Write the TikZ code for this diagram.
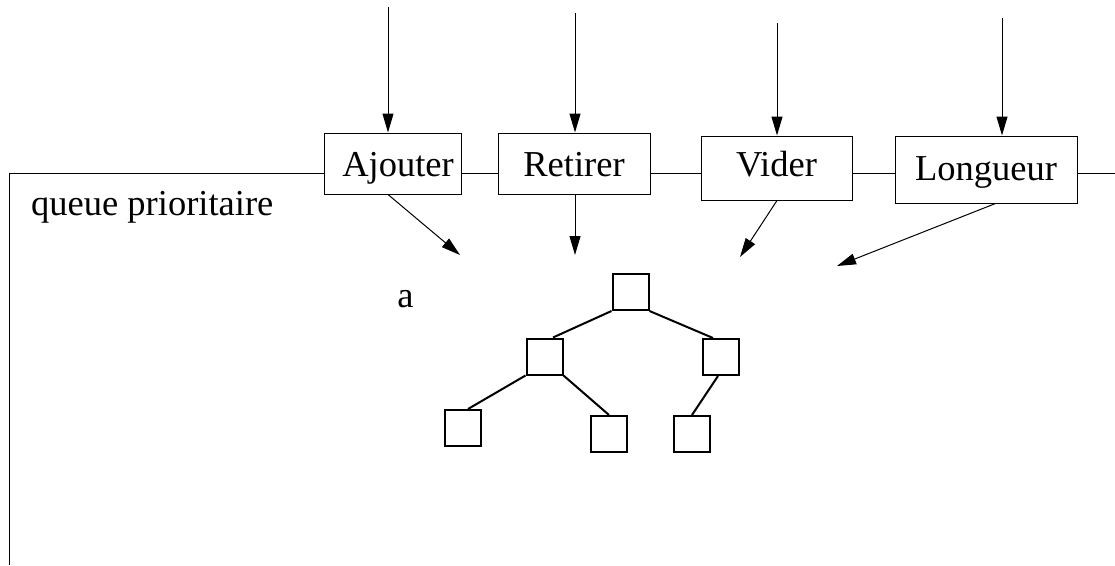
\documentclass[tikz,border=0pt]{standalone}
\usepackage{fontspec}
\setmainfont{Liberation Serif}
\usetikzlibrary{arrows.meta,calc}
\begin{document}
\begin{tikzpicture}[x=1pt,y=-1pt,
  every node/.style={font=\fontsize{36.5}{40}\selectfont},
  opbox/.style={draw, line width=1pt, inner sep=0pt, text depth=10pt},
  leaf/.style={draw, line width=2pt, minimum size=36pt, inner sep=0pt},
  arr/.style={line width=1pt, -{Triangle[length=19pt,width=11pt]}},
  frameline/.style={line width=1pt},
  treeedge/.style={line width=2pt}]
\useasboundingbox (0,0) rectangle (1115,565);

% operation boxes
\node[opbox, minimum width=137pt, minimum height=61pt, text height=35pt] (aj) at (392.5,163.5) {\hspace*{11pt}Ajouter};
\node[opbox, minimum width=152pt, minimum height=61pt, text height=35pt] (re) at (574,163.5) {Retirer};
\node[opbox, minimum width=151pt, minimum height=64pt, text height=26pt] (vi) at (776.5,168) {Vider};
\node[opbox, minimum width=182pt, minimum height=67pt, text height=31pt] (lo) at (986,169.5) {Longueur};

% frame line
\coordinate (c) at (9,173);
\coordinate (cb) at (9,565);
\coordinate (ce) at (1115,173);
\draw[frameline] (cb) -- (c) -- (aj.west |- c);
\draw[frameline] (aj.east |- c) -- (re.west |- c);
\draw[frameline] (re.east |- c) -- (vi.west |- c);
\draw[frameline] (vi.east |- c) -- (lo.west |- c);
\draw[frameline] (lo.east |- c) -- (ce);

% labels
\node[anchor=base west, inner sep=0pt] (qp) at (31,215) {queue prioritaire};
\node[anchor=base, inner sep=0pt] (la) at (405.5,307) {a};

% incoming arrows
\coordinate (t1) at (388,7);
\coordinate (t2) at (575,13);
\coordinate (t3) at (777,23);
\coordinate (t4) at (1002,18);
\draw[arr] (t1) -- (t1 |- aj.north);
\draw[arr] (t2) -- (t2 |- re.north);
\draw[arr] (t3) -- (t3 |- vi.north);
\draw[arr] (t4) -- (t4 |- lo.north);

% outgoing arrows
\coordinate (e1) at (460,255);
\coordinate (e2) at (575,255);
\coordinate (e3) at (740,257);
\coordinate (e4) at (837,266);
\draw[arr] (aj.south -| t1) -- (e1);
\draw[arr] (re.south -| t2) -- (e2);
\draw[arr] (vi.south -| t3) -- (e3);
\draw[arr] ($(lo.south)+(9.5,0)$) -- (e4);

% tree
\node[leaf] (r0) at (630.5,292) {};
\node[leaf] (n1) at (544.5,356.5) {};
\node[leaf] (n2) at (720.5,357) {};
\node[leaf] (n3) at (462.5,428) {};
\node[leaf] (n4) at (609,434) {};
\node[leaf] (n5) at (692,434) {};
\draw[treeedge] (r0.south west) -- ($(n1.north)+(8.5,0)$);
\draw[treeedge] (r0.south east) -- ($(n2.north)+(-7.5,0)$);
\draw[treeedge] (n1.south west) -- ($(n3.north)+(5.5,0)$);
\draw[treeedge] (n1.south east) -- (n4.north);
\draw[treeedge] ($(n2.south)+(-2.5,0)$) -- (n5.north);
\end{tikzpicture}
\end{document}
